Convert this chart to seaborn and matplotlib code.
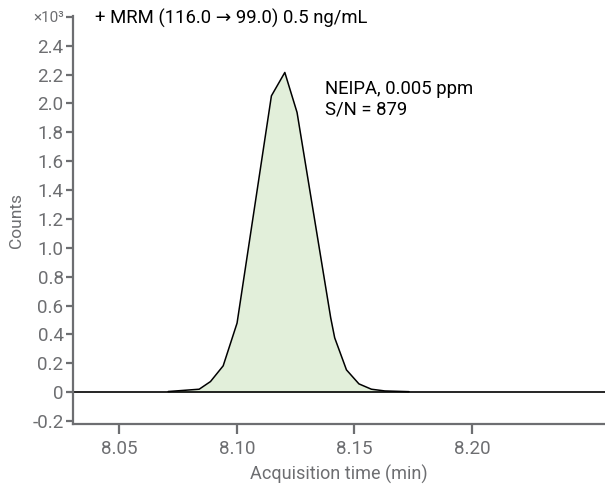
import matplotlib
matplotlib.use("Agg")
import matplotlib.pyplot as plt
import seaborn as sns
import pandas as pd
from matplotlib.ticker import FixedLocator, FuncFormatter

# Data
time_min = [8.0708, 8.0840, 8.0888, 8.0942, 8.1001, 8.1147, 8.1204, 8.1256,
            8.1399, 8.1416, 8.1466, 8.1519, 8.1572, 8.1629, 8.1732]
counts = [5, 21, 74, 183, 479, 2053, 2215, 1938, 516, 377, 155, 58, 21, 9, 4]
x_ticks = [8.05, 8.10, 8.15, 8.20]
y_ticks = [-200, 0, 200, 400, 600, 800, 1000, 1200, 1400, 1600, 1800, 2000, 2200, 2400, 2600]

title_text = "+ MRM (116.0 \u2192 99.0) 0.5 ng/mL"
annot_text = "NEIPA, 0.005 ppm\nS/N = 879"

sns.set_style("white")
plt.rcParams['font.family'] = ['Roboto', 'DejaVu Sans']

GRAY = "#6d6e71"
FILL = "#e2efda"

fig = plt.figure(figsize=(6.05, 4.94), dpi=100)
ax = fig.add_axes([0.1212, 0.1411, 0.8788, 0.8265])

df = pd.DataFrame({"t": time_min, "c": counts})
ax.fill_between(df["t"], 0, df["c"], color=FILL, zorder=1, linewidth=0)
ax.axhline(0, color="black", lw=1.2, zorder=2)
sns.lineplot(data=df, x="t", y="c", ax=ax, color="black", lw=1.1, zorder=3,
             sort=False, estimator=None)

ax.set_xlim(8.0305, 8.2565)
ax.set_ylim(-222, 2606)

ax.xaxis.set_major_locator(FixedLocator(x_ticks))
ax.xaxis.set_major_formatter(FuncFormatter(lambda v, p: f"{v:.2f}"))
ax.yaxis.set_major_locator(FixedLocator(y_ticks))


def yfmt(v, p):
    if abs(v - 2600) < 1:
        return "\u00d710\u00b3"
    if abs(v) < 1:
        return "0"
    return f"{v/1000:.1f}"


ax.yaxis.set_major_formatter(FuncFormatter(yfmt))

for s in ["top", "right"]:
    ax.spines[s].set_visible(False)
for s in ["left", "bottom"]:
    ax.spines[s].set_color(GRAY)
    ax.spines[s].set_linewidth(1.6)

ax.tick_params(axis="x", direction="out", length=7, width=1.6, color=GRAY,
               labelcolor=GRAY, labelsize=13.5, pad=4, bottom=True)
ax.tick_params(axis="y", direction="out", length=5, width=1.6, color=GRAY,
               labelcolor=GRAY, labelsize=13.5, pad=2, left=True)
for lab in ax.get_yticklabels():
    if lab.get_text().startswith("\u00d7"):
        lab.set_fontsize(11)

ax.set_xlabel("Acquisition time (min)", color=GRAY, fontsize=13, labelpad=5)
ax.set_ylabel("Counts", color=GRAY, fontsize=12.5, labelpad=6)

fig.text(95 / 605, 1 - 18 / 494, title_text, fontsize=13.3, color="black",
         va="center", ha="left")
ax.text(325 / 605, 1 - 99 / 494, annot_text, transform=fig.transFigure,
        fontsize=13.3, color="black", va="center", ha="left", linespacing=1.2)

fig.savefig("out.png", dpi=100)
